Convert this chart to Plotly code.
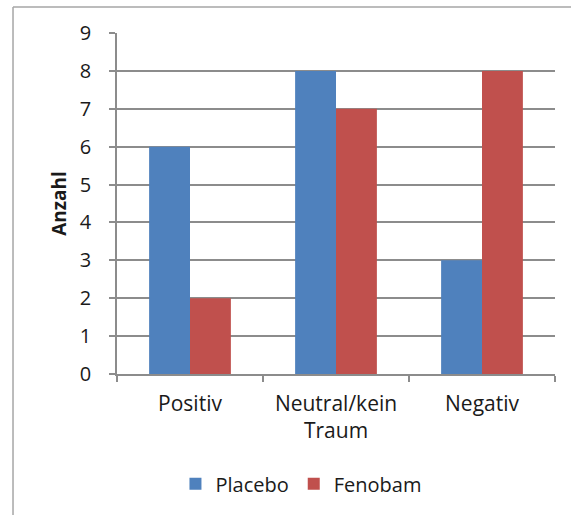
import plotly.graph_objects as go

categories = ["Positiv", "Neutral/kein<br>Traum", "Negativ"]
placebo = [6, 8, 3]
fenobam = [2, 7, 8]
y_ticks = list(range(0, 10))

BLUE = "#4F81BD"
RED = "#C0504D"
GRID = "#8C8C8C"
TEXT = "#1A1A1A"
FONT = "Open Sans, Lato, sans-serif"

fig = go.Figure()
fig.add_trace(go.Bar(name="Placebo", x=categories, y=placebo,
                     marker=dict(color=BLUE, line=dict(width=0))))
fig.add_trace(go.Bar(name="Fenobam", x=categories, y=fenobam,
                     marker=dict(color=RED, line=dict(width=0))))

fig.update_layout(
    width=571, height=515,
    margin=dict(l=117, r=16, t=33, b=138),
    paper_bgcolor="white", plot_bgcolor="white",
    barmode="group", bargap=0.44, bargroupgap=0,
    font=dict(family=FONT, size=20, color=TEXT),
    showlegend=True,
    legend=dict(orientation="h", x=0.42, xanchor="center", y=-0.265, yanchor="top",
                font=dict(size=20, family=FONT, color=TEXT), itemwidth=30,
                traceorder="normal", tracegroupgap=0),
    xaxis=dict(type="category", tickson="boundaries", ticks="outside", ticklen=6,
               tickcolor=GRID, tickwidth=1.5, showline=True, linecolor=GRID,
               linewidth=1.5, showgrid=False, tickfont=dict(size=21, color=TEXT),
               ticklabelstandoff=10),
    yaxis=dict(range=[0, 9], tickvals=y_ticks, ticks="outside", ticklen=6,
               tickcolor=GRID, tickwidth=1.5, showline=True, linecolor=GRID,
               linewidth=1.5, showgrid=True, gridcolor=GRID, gridwidth=1.5,
               zeroline=False, tickfont=dict(size=20, color=TEXT),
               ticklabelstandoff=14,
               title=dict(text="<b>Anzahl</b>", font=dict(size=19, color=TEXT),
                          standoff=8)),
)

# Outer frame around the chart (left and top edges visible)
fig.add_shape(type="line", xref="paper", yref="paper",
              x0=-0.2374, x1=1.1, y0=1.076, y1=1.076,
              line=dict(color="#A6A6A6", width=1.5))
fig.add_shape(type="line", xref="paper", yref="paper",
              x0=-0.2374, x1=-0.2374, y0=1.076, y1=-0.5,
              line=dict(color="#A6A6A6", width=1.5))

fig.write_html("out.html")
